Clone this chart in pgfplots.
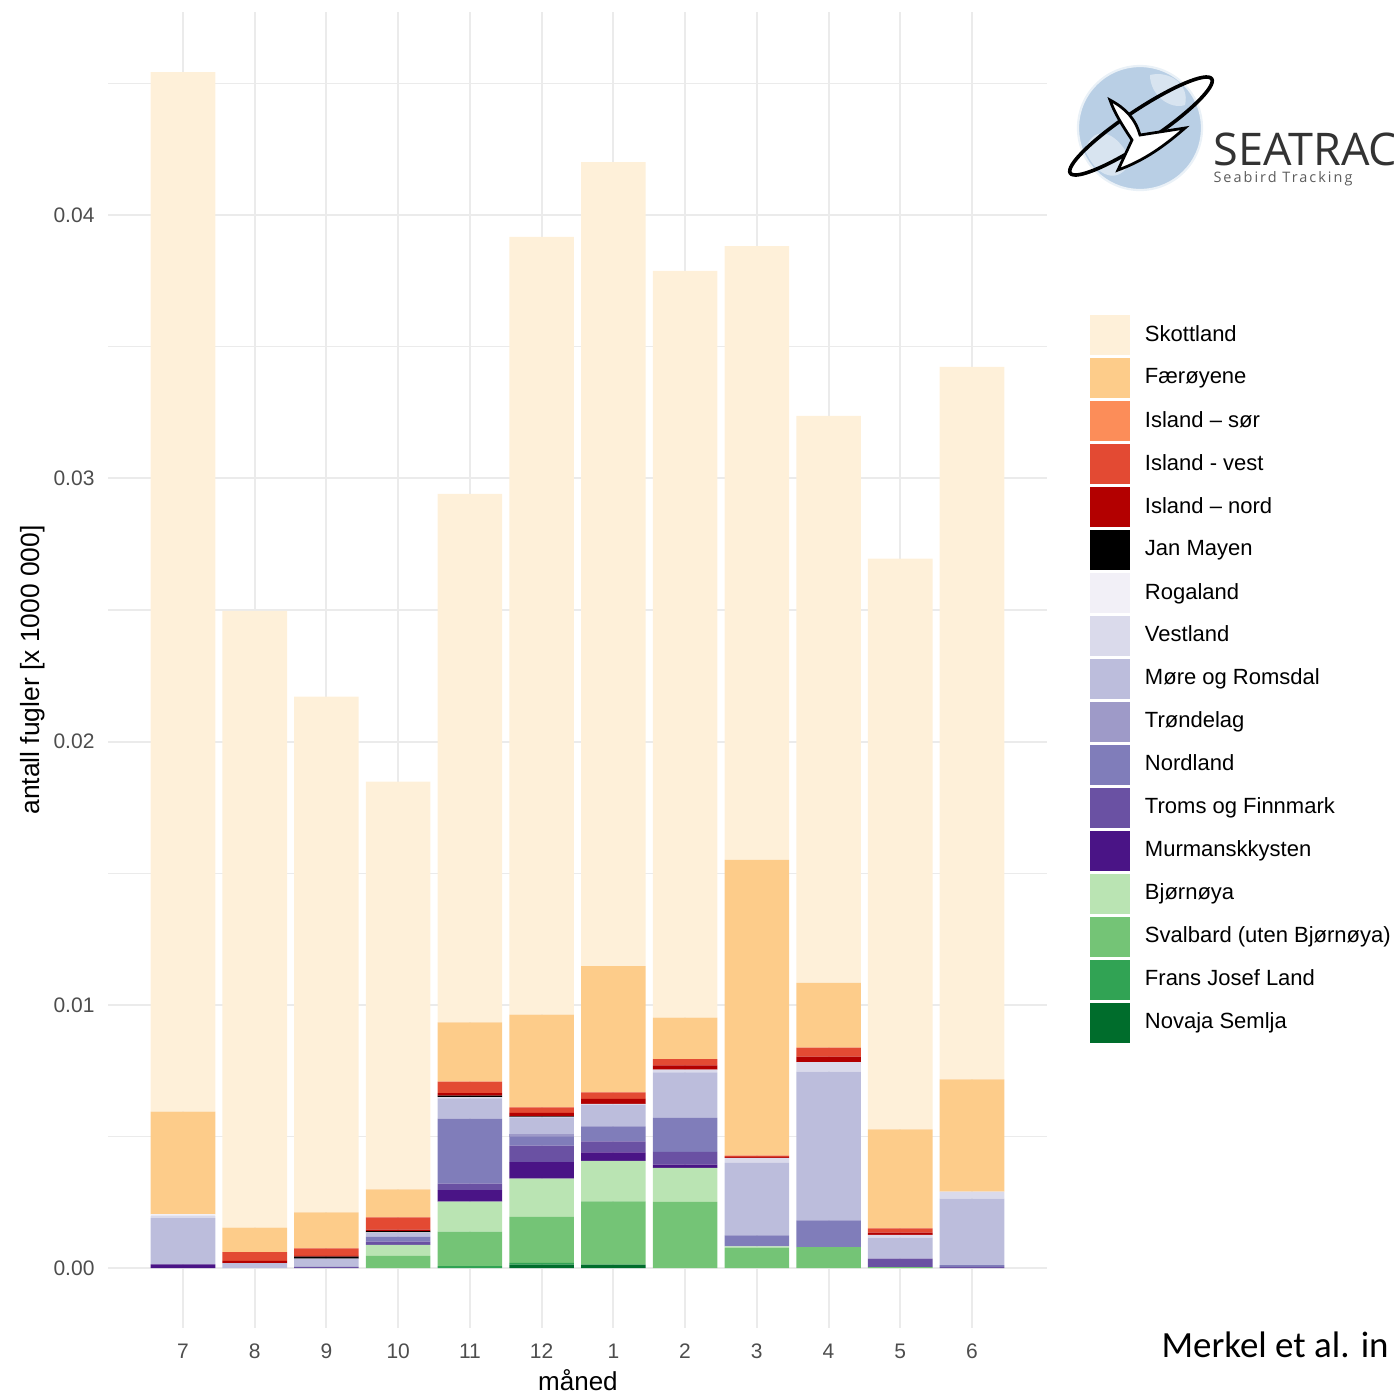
\documentclass[border=0pt]{standalone}
\usepackage{pgfplots}
\pgfplotsset{compat=1.18}
\usepackage{pgfplotstable}
\usepackage{fontspec}
\setmainfont{Liberation Sans}
\newfontfamily\logofont{Open Sans}
\newfontfamily\logosmall[LetterSpace=14]{Open Sans}
\newfontfamily\carlito{Carlito}

\definecolor{cSK}{HTML}{FEF0D9}
\definecolor{cFA}{HTML}{FDCC8A}
\definecolor{cIS}{HTML}{FC8D59}
\definecolor{cIV}{HTML}{E34A33}
\definecolor{cIN}{HTML}{B30000}
\definecolor{cJM}{HTML}{000000}
\definecolor{cRO}{HTML}{F2F0F7}
\definecolor{cVE}{HTML}{DADAEB}
\definecolor{cMR}{HTML}{BCBDDC}
\definecolor{cTR}{HTML}{9E9AC8}
\definecolor{cNO}{HTML}{807DBA}
\definecolor{cTF}{HTML}{6A51A3}
\definecolor{cMU}{HTML}{4A1486}
\definecolor{cBJ}{HTML}{BAE4B3}
\definecolor{cSV}{HTML}{74C476}
\definecolor{cFJ}{HTML}{31A354}
\definecolor{cNS}{HTML}{006D2C}
\definecolor{gridc}{HTML}{EBEBEB}
\definecolor{tickgray}{HTML}{4D4D4D}
\definecolor{globeblue}{HTML}{B9CFE5}
\definecolor{logogray}{HTML}{333333}

\pgfplotstableread{
x NS FJ SV BJ MU TF NO TR MR VE RO JM IN IV IS FA SK
0 0 0 0 0 0.00015 0 0 0 0.00175 0.0001 0.00005 0 0 0 0 0.0039 0.03948
1 0 0 0 0 0 0 0 0 0.00019 0 0 0 0.00009 0.00033 0 0.00093 0.02343
2 0 0 0 0 0 0.00005 0 0 0.00032 0 0 0.00007 0.00003 0.00028 0 0.00137 0.01959
3 0 0 0.00047 0.00042 0 0.00012 0.00019 0 0.00013 0.00003 0 0.00005 0.00006 0.00046 0 0.00107 0.01548
4 0 0.00008 0.00131 0.00114 0.00044 0.00024 0.00247 0 0.00077 0.00005 0 0.00006 0.00009 0.00044 0 0.00225 0.02007
5 0.00014 0.00006 0.00175 0.00145 0.00063 0.00063 0.00034 0.0001 0.00063 0.00002 0 0.00002 0.00013 0.00021 0 0.00352 0.02954
6 0.00014 0 0.0024 0.00154 0.00032 0.00042 0.00057 0 0.00082 0.00003 0 0 0.00019 0.00025 0 0.00479 0.03054
7 0 0 0.00252 0.00129 0.00013 0.00048 0.00129 0 0.00173 0.0001 0 0 0.00016 0.00024 0 0.00158 0.02836
8 0 0 0.00077 0.00006 0 0 0.00042 0 0.00275 0.00019 0 0 0.00004 0.00005 0 0.01123 0.02331
9 0 0 0.0008 0 0 0 0.00102 0 0.00565 0.00036 0 0 0.00021 0.00034 0 0.00246 0.02153
10 0 0 0.00004 0 0 0.00033 0 0 0.00079 0.00011 0 0 0.00008 0.00016 0 0.00376 0.02168
11 0 0 0 0 0 0.00005 0.00007 0 0.00252 0.00027 0 0 0 0 0 0.00426 0.02706
}\data

\begin{document}
\begin{tikzpicture}
\useasboundingbox (0,0) rectangle (501.84pt,-501.48pt);
\clip (0,0) rectangle (501.84pt,-501.48pt);
\begin{axis}[
  at={(38.88pt,-478.08pt)}, anchor=south west,
  width=338.04pt, height=473.76pt, scale only axis,
  xmin=-1.046, xmax=12.046, ymin=-0.00227, ymax=0.04771,
  ybar stacked, bar width=0.9,
  xtick={0,1,2,3,4,5,6,7,8,9,10,11},
  xticklabels={7,8,9,10,11,12,1,2,3,4,5,6},
  ytick={0,0.01,0.02,0.03,0.04},
  minor ytick={0.005,0.015,0.025,0.035,0.045},
  scaled y ticks=false,
  /pgf/number format/fixed,
  /pgf/number format/fixed zerofill,
  /pgf/number format/precision=2,
  /pgf/number format/assume math mode=true,
  axis line style={draw=none},
  major tick length=0pt, minor tick length=0pt,
  tick style={draw=none},
  xmajorgrids, ymajorgrids, yminorgrids,
  major grid style={line width=0.72pt, color=gridc},
  minor grid style={line width=0.4pt, color=gridc},
  ticklabel style={font=\fontsize{7.56}{9}\selectfont, text=tickgray, inner sep=0pt},
  yticklabel style={anchor=east, xshift=-4.68pt},
  xticklabel style={anchor=north, yshift=-5.4pt},
  xlabel={måned},
  xlabel style={at={(axis description cs:0.5005,-0.0395)}, anchor=center, font=\fontsize{9.36}{11}\selectfont},
  ylabel={antall fugler [x 1000 000]},
  ylabel style={at={(axis description cs:-0.0799,0.5)}, anchor=center, font=\fontsize{9.5}{11}\selectfont},
  legend style={at={(axis description cs:1.04579,0.7694)}, anchor=north west,
    draw=none, fill=none, inner sep=0pt, outer sep=0pt,
    row sep=1.06pt, column sep=5.4pt,
    font=\fontsize{7.92}{9.5}\selectfont, nodes={inner sep=0pt}},
  legend cell align=left,
  reverse legend,
  legend image code/.code={\fill[#1] (0pt,-7.2pt) rectangle (14.4pt,7.2pt);},
]
\addplot[fill=cNS, draw=none] table[x=x, y=NS] {\data}; \addlegendentry{Novaja Semlja}
\addplot[fill=cFJ, draw=none] table[x=x, y=FJ] {\data}; \addlegendentry{Frans Josef Land}
\addplot[fill=cSV, draw=none] table[x=x, y=SV] {\data}; \addlegendentry{Svalbard (uten Bjørnøya)}
\addplot[fill=cBJ, draw=none] table[x=x, y=BJ] {\data}; \addlegendentry{Bjørnøya}
\addplot[fill=cMU, draw=none] table[x=x, y=MU] {\data}; \addlegendentry{Murmanskkysten}
\addplot[fill=cTF, draw=none] table[x=x, y=TF] {\data}; \addlegendentry{Troms og Finnmark}
\addplot[fill=cNO, draw=none] table[x=x, y=NO] {\data}; \addlegendentry{Nordland}
\addplot[fill=cTR, draw=none] table[x=x, y=TR] {\data}; \addlegendentry{Trøndelag}
\addplot[fill=cMR, draw=none] table[x=x, y=MR] {\data}; \addlegendentry{Møre og Romsdal}
\addplot[fill=cVE, draw=none] table[x=x, y=VE] {\data}; \addlegendentry{Vestland}
\addplot[fill=cRO, draw=none] table[x=x, y=RO] {\data}; \addlegendentry{Rogaland}
\addplot[fill=cJM, draw=none] table[x=x, y=JM] {\data}; \addlegendentry{Jan Mayen}
\addplot[fill=cIN, draw=none] table[x=x, y=IN] {\data}; \addlegendentry{Island – nord}
\addplot[fill=cIV, draw=none] table[x=x, y=IV] {\data}; \addlegendentry{Island - vest}
\addplot[fill=cIS, draw=none] table[x=x, y=IS] {\data}; \addlegendentry{Island – sør}
\addplot[fill=cFA, draw=none] table[x=x, y=FA] {\data}; \addlegendentry{Færøyene}
\addplot[fill=cSK, draw=none] table[x=x, y=SK] {\data}; \addlegendentry{Skottland}
\end{axis}
\begin{scope}[x=0.36pt,y=-0.36pt]
  \fill[globeblue] (1140,128) circle (62);
  \fill[white, opacity=0.45] (1085,150) .. controls (1095,120) and (1120,135) .. (1130,160) .. controls (1125,180) and (1100,185) .. cycle;
  \fill[white, opacity=0.45] (1150,75) .. controls (1170,70) and (1190,85) .. (1185,105) .. controls (1170,110) and (1150,95) .. cycle;
  \draw[white!70!globeblue, line width=0.8pt] (1140,128) circle (62);
  \draw[black, line width=1.3pt, rotate around={33.7:(1141,126)}] (1141,126) ellipse [x radius=85, y radius=16];
  \filldraw[fill=white, draw=black, line width=1.0pt] (1110,100) .. controls (1125,108) and (1135,118) .. (1140,135) -- (1185,128) .. controls (1160,150) and (1140,162) .. (1118,170) -- (1132,140) .. controls (1122,125) and (1114,112) .. cycle;
  \node[anchor=base west, inner sep=0pt, text depth=0pt, text=logogray, font=\logofont\fontsize{16.2}{19}\selectfont] at (1213,165) {SEATRAC};
  \node[anchor=base west, inner sep=0pt, text height=3.6pt, text=logogray!80, font=\logosmall\fontsize{5.2}{6}\selectfont] at (1213,182) {Seabird Tracking};
  \node[anchor=base west, inner sep=0pt, text=black, font=\carlito\fontsize{13.3}{16}\selectfont] at (1161,1357) {Merkel et al. in};
\end{scope}
\end{tikzpicture}
\end{document}
